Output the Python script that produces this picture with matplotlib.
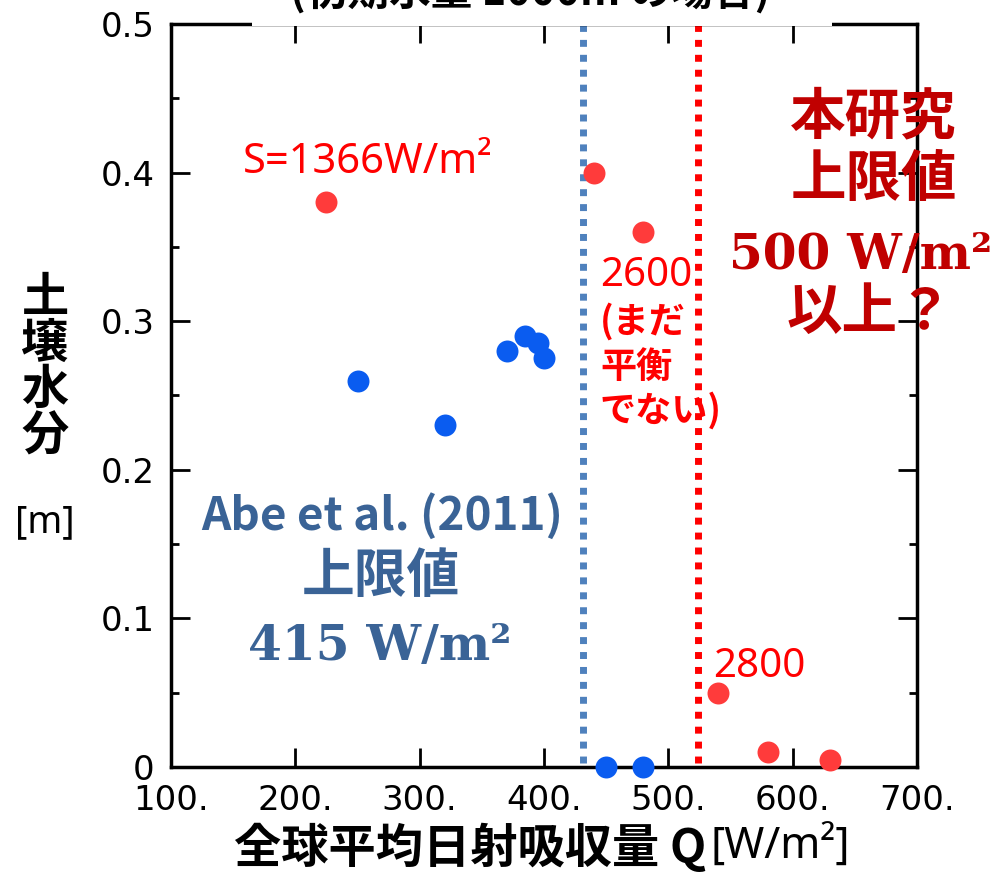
import numpy as np
import matplotlib
matplotlib.use('Agg')
import matplotlib.pyplot as plt
from matplotlib.patches import Rectangle
from matplotlib.ticker import MultipleLocator

# runs with S=1366 W/m2 and larger (red) vs Abe et al. runs (blue)
q_red = [225, 440, 480, 540, 580, 630]
w_red = [0.38, 0.40, 0.36, 0.05, 0.01, 0.005]
q_blue = [250, 320, 370, 385, 395, 400, 450, 480]
w_blue = [0.26, 0.23, 0.28, 0.29, 0.285, 0.275, 0.0, 0.0]

q_abe = 431   # Abe et al. (2011) limit line
q_this = 524  # this study limit line

xticks = [100, 200, 300, 400, 500, 600, 700]
xticklabels = ['100.', '200.', '300.', '400.', '500.', '600.', '700.']
yticks = [0, 0.1, 0.2, 0.3, 0.4, 0.5]
yticklabels = ['0', '0.1', '0.2', '0.3', '0.4', '0.5']

JP = ['Noto Sans CJK JP', 'DejaVu Sans']
LAT = ['Noto Sans', 'DejaVu Sans']
SER = ['DejaVu Serif']

red_pt = '#ff3b3b'
blue_pt = '#0a5cf0'
red_txt = '#ff0000'
dred = '#c00000'
blue_txt = '#3a6396'

W, H = 1001, 872
fig = plt.figure(figsize=(W / 100, H / 100), dpi=100)
ax = fig.add_axes([171 / W, 1 - 767 / H, 746 / W, 743 / H])

ax.scatter(q_red, w_red, s=250, color=red_pt, zorder=3, clip_on=False, linewidths=0)
ax.scatter(q_blue, w_blue, s=250, color=blue_pt, zorder=3, clip_on=False, linewidths=0)

ax.plot([q_abe, q_abe], [0.003, 0.5], color='#4f81bd', lw=5, dashes=(1, 1.15), dash_capstyle='butt', zorder=2)
ax.plot([q_this, q_this], [0.003, 0.5], color='#ff0000', lw=5, dashes=(1, 1.15), dash_capstyle='butt', zorder=2)

ax.set_xlim(100, 700)
ax.set_ylim(0, 0.5)
ax.set_xticks(xticks)
ax.set_xticklabels(xticklabels, fontsize=24.5)
ax.set_yticks(yticks)
ax.set_yticklabels(yticklabels, fontsize=24.5)
ax.yaxis.set_minor_locator(MultipleLocator(0.05))
ax.tick_params(which='both', direction='in', top=True, right=True, width=2, pad=12)
ax.tick_params(which='major', length=14)
ax.tick_params(which='minor', length=6)
for s in ax.spines.values():
    s.set_linewidth(2.5)

# annotations
ax.text(258, 0.400, 'S=1366W/m²', color=red_txt, fontsize=30, family=LAT, ha='center', va='baseline')
ax.text(445, 0.324, '2600', color=red_txt, fontsize=29, family=LAT, ha='left', va='baseline')
ax.text(445, 0.2995, '(まだ', color=red_txt, fontsize=26, family=JP, weight='bold', ha='left', va='center')
ax.text(445, 0.269, '平衡', color=red_txt, fontsize=26, family=JP, weight='bold', ha='left', va='center')
ax.text(445, 0.240, 'でない)', color=red_txt, fontsize=26, family=JP, weight='bold', ha='left', va='center')
ax.text(535.7, 0.0606, '2800', color=red_txt, fontsize=29, family=LAT, ha='left', va='baseline')

ax.text(665, 0.4374, '本研究', color=dred, fontsize=40, family=JP, weight='bold', ha='center', va='center')
ax.text(665, 0.395, '上限値', color=dred, fontsize=40, family=JP, weight='bold', ha='center', va='center')
ax.text(655, 0.3351, '500 W/m²', color=dred, fontsize=35, family=SER, weight='bold', ha='center', va='baseline')
ax.text(662, 0.3055, '以上？', color=dred, fontsize=40, family=JP, weight='bold', ha='center', va='center')

ax.text(269.6, 0.1595, 'Abe et al. (2011)', color=blue_txt, fontsize=33, family=JP, weight='bold', ha='center', va='baseline')
ax.text(269, 0.1279, '上限値', color=blue_txt, fontsize=38, family=JP, weight='bold', ha='center', va='center')
ax.text(268, 0.072, '415 W/m²', color=blue_txt, fontsize=35, family=SER, weight='bold', ha='center', va='baseline')

# axis labels
fig.text(45 / W, 1 - 367 / H, '土\n壌\n水\n分', fontsize=34, family=JP, weight='bold', ha='center', va='center', linespacing=0.95)
fig.text(45 / W, 1 - 522 / H, '[m]', fontsize=27, family=LAT, ha='center', va='center')
fig.text(706 / W, 1 - 848 / H, '全球平均日射吸収量 Q', fontsize=34, family=JP, weight='bold', ha='right', va='center')
fig.text(710 / W, 1 - 848 / H, '[W/m²]', fontsize=31, family=LAT, ha='left', va='center')

# title strip at the top, mostly cut off
fig.patches.append(Rectangle((252 / W, 1 - 26 / H), 580 / W, 26 / H, transform=fig.transFigure,
                             facecolor='white', edgecolor='none', zorder=5))
fig.text(530 / W, 1 + 8 / H, '(初期水量 1000m の場合)', fontsize=30, family=JP, weight='bold',
         ha='center', va='center', zorder=6)

fig.savefig('out.png', dpi=100)
